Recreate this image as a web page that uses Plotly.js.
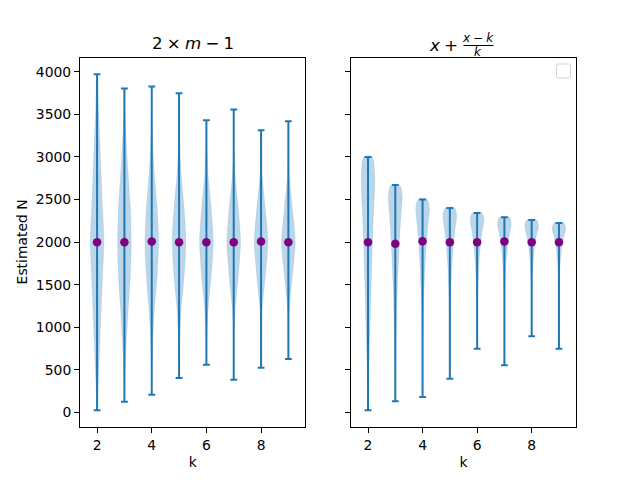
<!DOCTYPE html>
<html>
<head>
<meta charset="utf-8">
<script src="https://cdn.plot.ly/plotly-3.0.1.min.js"></script>
<style>
  html, body { margin: 0; padding: 0; background: #fff; }
  #plot { width: 640px; height: 480px; }
</style>
</head>
<body>
<div id="plot"></div>
<script>
// sample sizes k
var ks = [2, 3, 4, 5, 6, 7, 8, 9];

// estimator 2*m - 1 (left panel)
var leftMin  = [27, 125, 207, 406, 559, 383, 524, 629];
var leftMax  = [3972, 3804, 3827, 3749, 3432, 3558, 3315, 3420];
var leftMean = [1998, 1998, 2008, 1998, 1998, 1998, 2008, 1998];

// violin outline for the left panel: values and relative half width
var leftProfileY = [
  [27, 400, 800, 1200, 1600, 2000, 2400, 2800, 3200, 3600, 3972],
  [125, 400, 800, 1200, 1600, 2000, 2400, 2800, 3200, 3600, 3804],
  [207, 400, 800, 1200, 1600, 2000, 2400, 2800, 3200, 3600, 3827],
  [406, 800, 1200, 1600, 2000, 2400, 2800, 3200, 3749],
  [559, 800, 1200, 1600, 2000, 2400, 2800, 3200, 3432],
  [383, 800, 1200, 1600, 2000, 2400, 2800, 3200, 3558],
  [524, 800, 1200, 1600, 2000, 2400, 2800, 3315],
  [629, 1200, 1600, 2000, 2400, 2800, 3420]
];
var leftProfileW = [
  [0.02, 0.2, 0.4, 0.6, 0.8, 1.0, 0.8, 0.6, 0.4, 0.2, 0.02],
  [0.02, 0.07, 0.26, 0.55, 0.87, 1.0, 0.87, 0.55, 0.26, 0.07, 0.02],
  [0.01, 0.03, 0.13, 0.39, 0.79, 1.0, 0.79, 0.39, 0.13, 0.03, 0.01],
  [0.01, 0.07, 0.3, 0.74, 1.0, 0.74, 0.3, 0.07, 0.01],
  [0.01, 0.04, 0.24, 0.7, 1.0, 0.7, 0.24, 0.04, 0.01],
  [0.005, 0.02, 0.19, 0.66, 1.0, 0.66, 0.19, 0.02, 0.005],
  [0.005, 0.015, 0.15, 0.62, 1.0, 0.62, 0.15, 0.005],
  [0.005, 0.115, 0.58, 1.0, 0.58, 0.115, 0.005]
];

// estimator x + (x - k)/k (right panel)
var rightMin  = [27, 132, 183, 395, 747, 555, 895, 747];
var rightMax  = [2999, 2670, 2502, 2400, 2342, 2291, 2260, 2224];
var rightMean = [1998, 1982, 2010, 1998, 1998, 2008, 1998, 1998];

var rightProfileY = [
  [27, 500, 1000, 1500, 2000, 2400, 2700, 2850, 2999],
  [132, 500, 1000, 1500, 2000, 2300, 2550, 2670],
  [183, 1000, 1500, 1800, 2000, 2200, 2400, 2502],
  [395, 800, 1200, 1500, 1700, 1900, 2100, 2310, 2400],
  [747, 1200, 1500, 1700, 1900, 2100, 2260, 2342],
  [555, 1200, 1500, 1700, 1900, 2050, 2215, 2291],
  [895, 1200, 1500, 1700, 1900, 2050, 2190, 2260],
  [747, 1200, 1500, 1700, 1900, 2050, 2160, 2224]
];
var rightProfileW = [
  [0.02, 0.14, 0.3, 0.47, 0.65, 0.85, 1.0, 0.95, 0.62],
  [0.01, 0.04, 0.15, 0.33, 0.6, 0.82, 1.0, 0.62],
  [0.005, 0.07, 0.245, 0.42, 0.58, 0.78, 1.0, 0.65],
  [0.005, 0.015, 0.07, 0.18, 0.29, 0.46, 0.68, 1.0, 0.7],
  [0.005, 0.04, 0.13, 0.24, 0.42, 0.69, 1.0, 0.72],
  [0.003, 0.025, 0.1, 0.2, 0.4, 0.63, 1.0, 0.72],
  [0.003, 0.015, 0.07, 0.17, 0.37, 0.63, 1.0, 0.72],
  [0.003, 0.01, 0.054, 0.15, 0.36, 0.66, 1.0, 0.72]
];

var blue = '#1f77b4';
var halfWidth = 0.25;   // matplotlib widths=0.5
var capHalf = 0.125;

function panel(xa, ya, mins, maxs, means, profY, profW) {
  var out = [];
  // violin bodies
  ks.forEach(function(k, i) {
    var px = [], py = [];
    for (var j = 0; j < profY[i].length; j++) {
      px.push(k + halfWidth * profW[i][j]);
      py.push(profY[i][j]);
    }
    for (var j = profY[i].length - 1; j >= 0; j--) {
      px.push(k - halfWidth * profW[i][j]);
      py.push(profY[i][j]);
    }
    out.push({
      x: px, y: py, xaxis: xa, yaxis: ya,
      type: 'scatter', mode: 'lines', fill: 'toself',
      fillcolor: 'rgba(31,119,180,0.3)',
      line: {color: 'rgba(31,119,180,0.12)', width: 0.8, shape: 'spline', smoothing: 0.8},
      hoverinfo: 'skip', showlegend: false
    });
  });
  // bars and caps
  var bx = [], by = [];
  ks.forEach(function(k, i) {
    bx.push(k, k, null);
    by.push(mins[i], maxs[i], null);
    bx.push(k - capHalf, k + capHalf, null);
    by.push(maxs[i], maxs[i], null);
    bx.push(k - capHalf, k + capHalf, null);
    by.push(mins[i], mins[i], null);
  });
  out.push({
    x: bx, y: by, xaxis: xa, yaxis: ya,
    type: 'scatter', mode: 'lines',
    line: {color: blue, width: 2},
    hoverinfo: 'skip', showlegend: false
  });
  // means
  out.push({
    x: ks, y: means, xaxis: xa, yaxis: ya,
    type: 'scatter', mode: 'markers',
    marker: {color: 'purple', size: 8.5},
    showlegend: false
  });
  return out;
}

var data = panel('x', 'y', leftMin, leftMax, leftMean, leftProfileY, leftProfileW)
  .concat(panel('x2', 'y2', rightMin, rightMax, rightMean, rightProfileY, rightProfileW));

var font = {family: 'DejaVu Sans', size: 13.9, color: '#000'};

function xAxis(domain) {
  return {
    domain: domain, range: [1.375, 9.625],
    tickvals: [2, 4, 6, 8], ticks: 'outside', ticklen: 5, tickwidth: 1, tickcolor: '#000',
    showline: true, mirror: true, linecolor: '#000', linewidth: 1,
    showgrid: false, zeroline: false, tickfont: font,
    title: {text: 'k', font: font, standoff: 5}
  };
}
function yAxis(labels) {
  return {
    domain: [0.11, 0.88], range: [-173, 4167],
    tickvals: [0, 500, 1000, 1500, 2000, 2500, 3000, 3500, 4000],
    ticks: 'outside', ticklen: 5, tickwidth: 1, tickcolor: '#000',
    showline: true, mirror: true, linecolor: '#000', linewidth: 1,
    showgrid: false, zeroline: false, tickfont: font,
    showticklabels: labels
  };
}

var yAx2 = yAxis(false);
yAx2.anchor = 'x2';
yAx2.matches = 'y';
var xAx2 = xAxis([0.5484, 0.9]);
xAx2.anchor = 'y2';

var tfont = {family: 'DejaVu Sans', size: 16.7, color: '#000'};
var sp = '\u2005';
var layout = {
  width: 640, height: 480,
  margin: {l: 0, r: 0, t: 0, b: 0},
  paper_bgcolor: '#fff', plot_bgcolor: '#fff',
  showlegend: false,
  xaxis: xAxis([0.125, 0.4773]),
  yaxis: yAxis(true),
  xaxis2: xAx2,
  yaxis2: yAx2,
  annotations: [
    {text: '2' + sp + '×' + sp + '<i>m</i>' + sp + '−' + sp + '1', font: tfont, xref: 'paper', yref: 'paper',
     x: 192.7 / 640, y: 1 - 43 / 480, xanchor: 'center', yanchor: 'middle', showarrow: false},
    {text: '<i>x</i>' + sp + '+', font: tfont, xref: 'paper', yref: 'paper',
     x: 443.5 / 640, y: 1 - 45.5 / 480, xanchor: 'center', yanchor: 'middle', showarrow: false},
    {text: '<i>x</i>' + sp + '−' + sp + '<i>k</i>', font: {family: 'DejaVu Sans', size: 12, color: '#000'},
     xref: 'paper', yref: 'paper',
     x: 478.4 / 640, y: 1 - 38 / 480, xanchor: 'center', yanchor: 'middle', showarrow: false},
    {text: '<i>k</i>', font: {family: 'DejaVu Sans', size: 12, color: '#000'},
     xref: 'paper', yref: 'paper',
     x: 478.4 / 640, y: 1 - 52 / 480, xanchor: 'center', yanchor: 'middle', showarrow: false},
    {text: 'Estimated N', font: font, xref: 'paper', yref: 'paper', textangle: -90,
     x: 22 / 640, y: 1 - 242.4 / 480, xanchor: 'center', yanchor: 'middle', showarrow: false}
  ],
  shapes: [
    // fraction bar of the right title
    {type: 'line', xref: 'paper', yref: 'paper',
     x0: 463.5 / 640, x1: 493.5 / 640, y0: 1 - 45.5 / 480, y1: 1 - 45.5 / 480,
     line: {color: '#000', width: 1}},
    // empty legend frame, rounded corners
    {type: 'path', xref: 'paper', yref: 'paper',
     path: legendPath(556.5, 64, 570.5, 78, 2),
     line: {color: '#d3d3d3', width: 1}, fillcolor: 'rgba(255,255,255,0.8)'}
  ]
};

function legendPath(x0, y0, x1, y1, r) {
  // pixel box -> paper coordinates
  function px(v) { return (v / 640).toFixed(5); }
  function py(v) { return (1 - v / 480).toFixed(5); }
  return 'M ' + px(x0 + r) + ',' + py(y0) +
    ' L ' + px(x1 - r) + ',' + py(y0) +
    ' Q ' + px(x1) + ',' + py(y0) + ' ' + px(x1) + ',' + py(y0 + r) +
    ' L ' + px(x1) + ',' + py(y1 - r) +
    ' Q ' + px(x1) + ',' + py(y1) + ' ' + px(x1 - r) + ',' + py(y1) +
    ' L ' + px(x0 + r) + ',' + py(y1) +
    ' Q ' + px(x0) + ',' + py(y1) + ' ' + px(x0) + ',' + py(y1 - r) +
    ' L ' + px(x0) + ',' + py(y0 + r) +
    ' Q ' + px(x0) + ',' + py(y0) + ' ' + px(x0 + r) + ',' + py(y0) + ' Z';
}

Plotly.newPlot('plot', data, layout, {staticPlot: true});
</script>
</body>
</html>
